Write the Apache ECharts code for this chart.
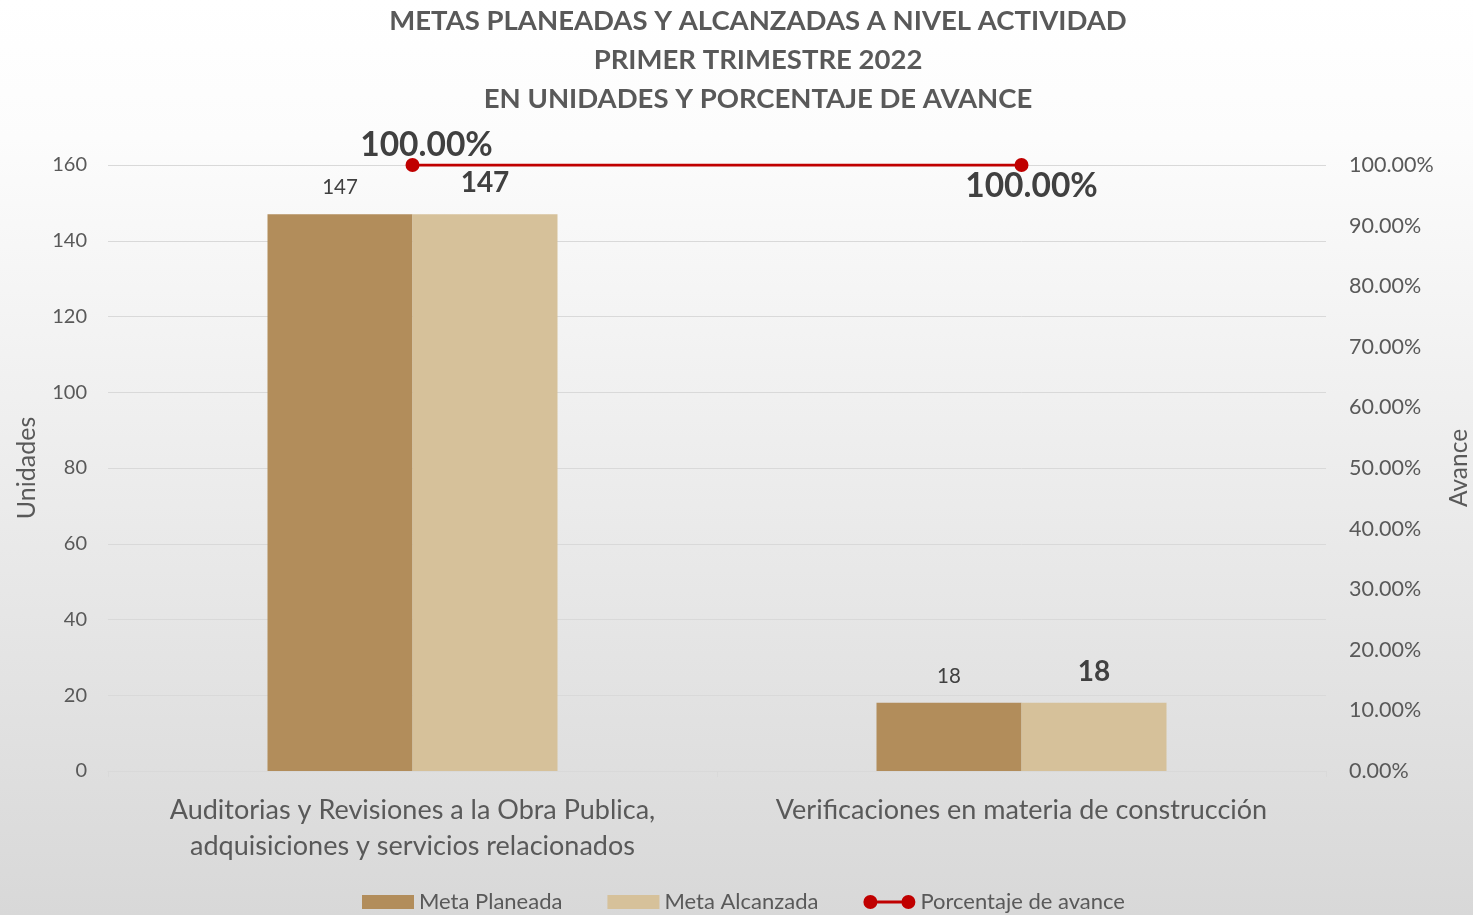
<!DOCTYPE html>
<html>
<head>
<meta charset="utf-8">
<script src="https://cdn.jsdelivr.net/npm/echarts@6/dist/echarts.min.js"></script>
<style>
  html, body { margin: 0; padding: 0; }
  #chart { width: 1473px; height: 915px; }
</style>
</head>
<body>
<div id="chart"></div>
<script>
// categorias
const categorias = [
  'Auditorias y Revisiones a la Obra Publica,\nadquisiciones y servicios relacionados',
  'Verificaciones en materia de construcción'
]
// metas planeadas
const metaPlaneada = [147, 18]
// metas alcanzadas
const metaAlcanzada = [147, 18]
// porcentaje de avance (1 = 100%)
const porcentajeAvance = [1, 1]
// ticks
const ticksUnidades = { min: 0, max: 160, interval: 20 }
const ticksAvance = { min: 0, max: 1, interval: 0.1 }

const FONT = 'Lato'
const GRIS = '#595959'
const OSCURO = '#404040'

const iconoLinea = 'path://M0,7A7,7,0,1,1,14,7A7,7,0,1,1,0,7ZM7,5.5L45,5.5L45,8.5L7,8.5ZM38,7A7,7,0,1,1,52,7A7,7,0,1,1,38,7Z'

const option = {
  backgroundColor: {
    type: 'linear', x: 0, y: 0, x2: 0, y2: 1,
    colorStops: [
      { offset: 0, color: '#ffffff' },
      { offset: 0.15, color: '#fcfcfc' },
      { offset: 1, color: '#d8d8d8' }
    ]
  },
  textStyle: { fontFamily: FONT },
  title: {
    text: 'METAS PLANEADAS Y ALCANZADAS A NIVEL ACTIVIDAD\nPRIMER TRIMESTRE 2022\nEN UNIDADES Y PORCENTAJE DE AVANCE',
    left: 758,
    top: 2,
    padding: 0,
    textAlign: 'center',
    textStyle: {
      fontFamily: FONT,
      fontSize: 27.5,
      fontWeight: 'bold',
      color: GRIS,
      lineHeight: 39
    }
  },
  legend: {
    left: 362,
    top: 891,
    padding: 0,
    itemWidth: 52,
    itemHeight: 14,
    itemGap: 45,
    textStyle: { fontFamily: FONT, fontSize: 22, color: GRIS },
    data: [
      { name: 'Meta Planeada', icon: 'rect' },
      { name: 'Meta Alcanzada', icon: 'rect' },
      { name: 'Porcentaje de avance', icon: iconoLinea }
    ]
  },
  grid: { left: 108, right: 147, top: 165, bottom: 144, outerBoundsMode: 'none' },
  xAxis: {
    type: 'category',
    data: categorias,
    axisLine: { lineStyle: { color: '#d9d9d9', width: 1 } },
    axisTick: { show: true, length: 6, lineStyle: { color: '#d9d9d9' } },
    axisLabel: {
      interval: 0,
      hideOverlap: false,
      margin: 21,
      fontFamily: FONT,
      fontSize: 27,
      lineHeight: 36,
      color: GRIS
    }
  },
  yAxis: [
    {
      type: 'value',
      min: ticksUnidades.min,
      max: ticksUnidades.max,
      interval: ticksUnidades.interval,
      name: 'Unidades',
      nameLocation: 'middle',
      nameGap: 69,
      nameTextStyle: { fontFamily: FONT, fontSize: 25, color: GRIS },
      axisLine: { show: false },
      axisTick: { show: false },
      axisLabel: { margin: 21, fontFamily: FONT, fontSize: 20, color: GRIS },
      splitLine: { lineStyle: { color: '#d9d9d9', width: 1 } }
    },
    {
      type: 'value',
      min: ticksAvance.min,
      max: ticksAvance.max,
      interval: ticksAvance.interval,
      name: 'Avance',
      nameLocation: 'middle',
      nameGap: 121,
      nameTextStyle: { fontFamily: FONT, fontSize: 24.5, color: GRIS },
      axisLine: { show: false },
      axisTick: { show: false },
      splitLine: { show: false },
      axisLabel: {
        margin: 23,
        fontFamily: FONT,
        fontSize: 21.5,
        color: GRIS,
        formatter: (v) => (v * 100).toFixed(2) + '%'
      }
    }
  ],
  series: [
    {
      name: 'Meta Planeada',
      type: 'bar',
      barWidth: 145,
      barGap: 0,
      itemStyle: { color: '#b28d5b' },
      label: {
        show: true,
        position: 'top',
        distance: 16,
        fontFamily: FONT,
        fontSize: 20.5,
        color: OSCURO
      },
      data: metaPlaneada
    },
    {
      name: 'Meta Alcanzada',
      type: 'bar',
      barWidth: 145,
      barGap: 0,
      itemStyle: { color: '#d6c19a' },
      label: {
        show: true,
        position: 'top',
        distance: 17,
        fontFamily: FONT,
        fontSize: 28,
        fontWeight: 'bold',
        color: OSCURO
      },
      data: metaAlcanzada
    },
    {
      name: 'Porcentaje de avance',
      type: 'line',
      yAxisIndex: 1,
      symbol: 'circle',
      symbolSize: 14,
      z: 5,
      itemStyle: { color: '#c00000' },
      lineStyle: { color: '#c00000', width: 3 },
      label: {
        show: true,
        fontFamily: FONT,
        fontSize: 33.5,
        fontWeight: 'bold',
        color: OSCURO,
        formatter: (p) => (p.value * 100).toFixed(2) + '%'
      },
      data: porcentajeAvance.map((v, i) => ({
        value: v,
        label: i === 0
          ? { position: 'top', distance: 0, offset: [14, 4] }
          : { position: 'bottom', distance: 0, offset: [10, -3] }
      }))
    }
  ]
}

const chart = echarts.init(document.getElementById('chart'))
chart.setOption(option)
</script>
</body>
</html>
